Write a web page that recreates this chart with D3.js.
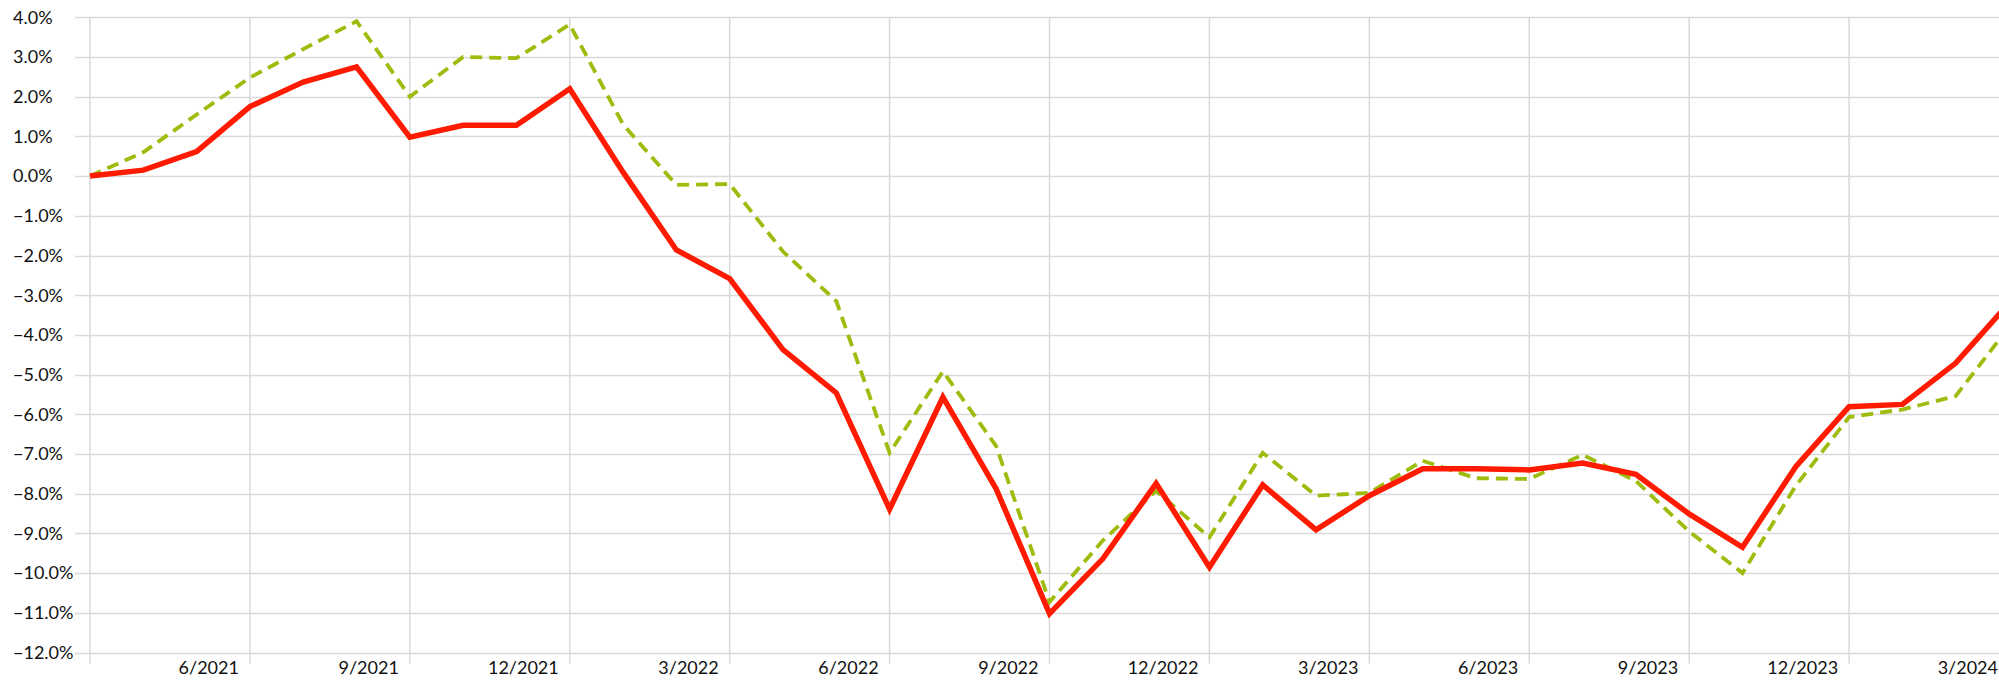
<!DOCTYPE html>
<html>
<head>
<meta charset="utf-8">
<script src="https://cdn.jsdelivr.net/npm/d3@7"></script>
<style>
  html, body { margin: 0; padding: 0; background: #fff; overflow: hidden; }
  svg { display: block; }
  text { font-family: Lato, "Open Sans", sans-serif; fill: #111; }
</style>
</head>
<body>
<div id="chart"></div>
<script>
// monthly categories, 3/2021 .. 3/2024
const months = [
  '3/2021', '4/2021', '5/2021', '6/2021', '7/2021', '8/2021', '9/2021', '10/2021', '11/2021', '12/2021',
  '1/2022', '2/2022', '3/2022', '4/2022', '5/2022', '6/2022', '7/2022', '8/2022', '9/2022', '10/2022',
  '11/2022', '12/2022', '1/2023', '2/2023', '3/2023', '4/2023', '5/2023', '6/2023', '7/2023', '8/2023',
  '9/2023', '10/2023', '11/2023', '12/2023', '1/2024', '2/2024', '3/2024'
];

// solid red series (%)
const redSeries = [
  0.0, 0.15, 0.62, 1.75, 2.37, 2.75, 0.98, 1.28, 1.28, 2.2,
  0.1, -1.86, -2.58, -4.37, -5.46, -8.39, -5.57, -7.88, -11.02, -9.64,
  -7.74, -9.85, -7.78, -8.91, -8.05, -7.37, -7.37, -7.4, -7.23, -7.51,
  -8.51, -9.35, -7.32, -5.81, -5.75, -4.71, -3.2
];

// dashed green series (%)
const greenSeries = [
  0.0, 0.6, 1.55, 2.48, 3.2, 3.9, 2.0, 3.0, 2.97, 3.82,
  1.3, -0.22, -0.2, -1.9, -3.15, -6.97, -4.92, -6.8, -10.73, -9.18,
  -7.93, -9.1, -6.97, -8.05, -7.98, -7.17, -7.61, -7.63, -7.02, -7.68,
  -8.95, -10.0, -7.8, -6.07, -5.88, -5.54, -3.8
];

// quarter ticks shown on the x axis
const quarterLabels = [
  '6/2021', '9/2021', '12/2021', '3/2022', '6/2022', '9/2022',
  '12/2022', '3/2023', '6/2023', '9/2023', '12/2023', '3/2024'
];

const yTicks = d3.range(-12, 4.001, 1);

const width = 1999;
const height = 680;

const svg = d3.select('#chart')
  .append('svg')
  .attr('width', width)
  .attr('height', height);

const x = d3.scalePoint()
  .domain(months)
  .range([90, 2009]);

const y = d3.scaleLinear()
  .domain([-12, 4])
  .range([652.5, 17.3]);

const grid = svg.append('g')
  .attr('stroke', '#d9d9d9')
  .attr('stroke-width', 1.5);

// horizontal gridlines
grid.selectAll('line.h')
  .data(yTicks)
  .join('line')
  .attr('class', 'h')
  .attr('x1', 75)
  .attr('x2', width)
  .attr('y1', d => Math.round(y(d)) + 0.5)
  .attr('y2', d => Math.round(y(d)) + 0.5);

// vertical gridlines: axis at first month, then every quarter
grid.selectAll('line.v')
  .data([months[0]].concat(quarterLabels))
  .join('line')
  .attr('class', 'v')
  .attr('x1', d => x(d))
  .attr('x2', d => x(d))
  .attr('y1', y(4))
  .attr('y2', y(-12) + 11);

// y labels (left aligned)
svg.append('g')
  .selectAll('text')
  .data(yTicks)
  .join('text')
  .attr('x', 13)
  .attr('y', d => y(d))
  .attr('dy', '0.35em')
  .attr('font-size', 18)
  .text(d => d3.format('.1f')(d) + '%');

// x labels, right edge just left of the quarter gridline
svg.append('g')
  .selectAll('text')
  .data(quarterLabels)
  .join('text')
  .attr('x', d => x(d) - 11)
  .attr('y', 674)
  .attr('text-anchor', 'end')
  .attr('font-size', 18)
  .text(d => d);

const line = d3.line()
  .x((d, i) => x(months[i]))
  .y(d => y(d));

svg.append('path')
  .datum(greenSeries)
  .attr('fill', 'none')
  .attr('stroke', '#9dbc0e')
  .attr('stroke-width', 3.8)
  .attr('stroke-dasharray', '12,7')
  .attr('d', line);

svg.append('path')
  .datum(redSeries)
  .attr('fill', 'none')
  .attr('stroke', '#ff1a00')
  .attr('stroke-width', 5.5)
  .attr('stroke-linejoin', 'miter')
  .attr('d', line);
</script>
</body>
</html>
